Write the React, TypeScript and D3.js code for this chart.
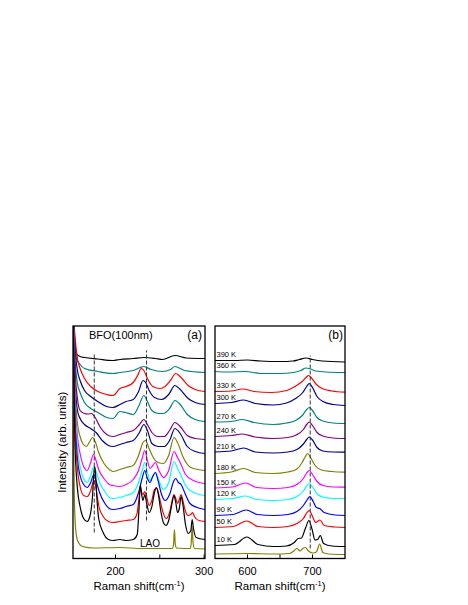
import React from "react";
import * as d3 from "d3";

type Pt = [number, number];

// temperatures, top to bottom, then the substrate trace
const temps = ["390 K", "360 K", "330 K", "300 K", "270 K", "240 K", "210 K", "180 K", "150 K", "120 K", "90 K", "50 K", "10 K"];
const colors = ["#000000", "#008080", "#ff0000", "#00008b", "#008080", "#800080", "#00008b", "#808000", "#ff00ff", "#00ffff", "#0000ff", "#ff0000", "#000000"];
const laoColor = "#808000";

// panel (a): low-frequency region, [Raman shift, intensity]
const a390: Pt[] = [[152,260],[153.5,220],[155.5,205],[160,202],[165,201],[180,199.5],[197,198],[205,199],[220,200],[232,201],[245,200],[253,199],[267,203],[280,200.5],[301,200]];
const a360: Pt[] = [[152,260],[153.5,225],[156,200],[160,194],[165,190],[180,187],[197,185],[205,186],[220,188],[228,191],[232,192],[240,189],[253,187],[262,189],[267,192],[278,188],[301,186]];
const a330: Pt[] = [[152,260],[154,225],[157,200],[160,190],[165,180],[172,172],[180,167],[190,164],[197,163],[205,170],[212,172],[220,176],[225,183],[229,190],[232,188],[236,180],[242,172],[250,170],[256,172],[262,178],[268,185],[274,181],[282,173],[290,169],[301,167]];
const a300: Pt[] = [[152,260],[154,215],[157,188],[160,178],[165,168],[172,162],[180,157],[190,152],[197,151],[205,154],[212,157],[220,159],[226,167],[231,178],[234,176],[238,168],[244,161],[252,159],[260,164],[267,173],[273,169],[282,160],[290,156],[301,154]];
const a270: Pt[] = [[152,260],[154,205],[157,175],[160,166],[165,156],[172,150],[180,146],[190,141],[197,140],[205,147],[211,146],[220,144],[226,152],[232,163],[236,157],[241,148],[248,145],[254,145],[261,150],[267,158],[273,154],[281,144],[290,139],[301,137]];
const a240: Pt[] = [[152,260],[154,195],[157,160],[160,148],[165,145],[169,144.5],[173,145],[177,141],[183,131],[190,124],[197,122],[205,124],[212,126],[220,128],[227,134],[232,139],[236,134],[241,126],[248,122],[255,122],[261,128],[267,136],[273,132],[281,123],[290,120],[301,119]];
const a210: Pt[] = [[152,260],[154,185],[157,148],[160,140],[165,134],[172,130],[178,126],[185,118],[192,113],[197,112],[205,114],[212,116],[220,118],[227,126],[232,134],[236,128],[241,115],[248,112],[255,112],[261,118],[267,130],[273,125],[281,112],[290,107],[301,105]];
const a180: Pt[] = [[152,260],[154,175],[157,135],[160,122],[163,115],[167,112],[171,117],[174,121],[177,117],[181,106],[187,95],[193,89],[197,87],[205,89],[212,91],[220,93],[226,103],[231,116],[234,118],[237,112],[242,102],[248,96],[254,95],[260,103],[266,121],[270,116],[276,102],[285,91],[301,88]];
const a150: Pt[] = [[152,260],[154,165],[157,122],[160,105],[164,92],[168,88],[172,96],[175,104],[178,98],[181,89],[187,80],[193,74],[197,73],[205,72],[212,74],[220,79],[226,88],[230,100],[233,108],[236,98],[239,90],[242,93],[245,96],[249,88],[254,81],[260,88],[266,107],[270,101],[274,94],[279,84],[288,78],[301,75]];
const a120: Pt[] = [[152,260],[154,160],[157,112],[160,92],[164,80],[168,76],[172,83],[175.5,92],[178.5,86],[182,76],[188,67],[193,61],[197,60],[205,61],[212,63],[220,66],[226,76],[230,88],[233,96],[236,86],[239,78],[242,82],[245,86],[249,78],[254,69],[260,76],[266,97],[270,90],[274,83],[279,73],[288,66],[301,63]];
const a90: Pt[] = [[152,260],[154,150],[157,100],[160,83],[164,74],[168,71],[172,76],[175.5,84],[178.5,76],[182,66],[188,55],[193,50],[197,49],[205,50],[212,52],[220,54],[226,66],[230,80],[233,88],[236,80],[239,76],[242,82],[245,86],[248,78],[252,64],[256,58],[261,64],[266,78],[268,80],[271,76],[274,74],[278,66],[284,55],[292,51],[301,49]];
const a50: Pt[] = [[152,260],[154,140],[157,90],[160,72],[164,63],[168,62],[172,68],[174.5,76],[176,78],[178,70],[181,53],[186,42],[192,37],[197,36],[205,37],[212,38],[220,39],[224,44],[226.5,60],[228,71],[229.5,66],[231,64],[233,67],[235,62],[238,53],[241,58],[244,69],[246.5,70],[249,63],[253,48],[257,40],[261,46],[264,58],[266,64],[268,60],[270,55],[272,59],[274,64],[276,58],[279,47],[282,43],[285,44],[287,46],[289,42],[294,38],[301,37]];
const a10: Pt[] = [[152,260],[154,120],[157,70],[160,52],[164,40],[168,37],[171,42],[174,62],[175.5,84],[176.5,92],[177.5,84],[179,60],[181,40],[186,26],[192,19],[197,18],[205,19],[212,18],[220,19],[224.5,24],[226.5,50],[228,74],[229.5,64],[231,58],[233,64],[235,56],[238,46],[241,52],[244,66],[246,71],[248,66],[251,48],[254,36],[257,33],[260,38],[263.5,54],[266,63],[268,56],[270,46],[272,50],[274,62],[276,54],[279,34],[282,25],[285,28],[286.5,39],[288,30],[291,21],[301,19]];
const aLAO: Pt[] = [[152,180],[153.5,60],[155.5,25],[158,16],[163,12],[175,10.5],[205,11],[230,10],[264,10],[265.5,14],[266.5,29],[267.5,14],[269,10.5],[284.5,10],[285.5,16],[286.5,32],[287.5,16],[289,10],[301,9.5]];

// panel (b): high-frequency region
const b390: Pt[] = [[550,198],[580,198],[600,198.5],[620,197.5],[650,197],[670,197.5],[680,199],[690,200.5],[700,199],[715,197.5],[750,196.5]];
const b360: Pt[] = [[550,187],[570,186.5],[597,187],[620,185],[650,185],[670,186],[682,188],[690,190.5],[697,189.5],[705,187.5],[720,186.5],[750,186]];
const b330: Pt[] = [[550,167],[575,167.5],[593,169.5],[610,167],[637,166],[660,168],[673,172],[684,177],[690,181],[694,183],[699,180],[706,174],[715,170],[730,167.5],[750,166.3]];
const b300: Pt[] = [[550,155],[575,156],[594,158.5],[612,155],[640,153.5],[660,155.5],[674,160],[685,166],[691,172],[695,175],[700,171],[707,162],[716,157],[732,154],[750,153]];
const b270: Pt[] = [[550,136.5],[575,137],[592,139],[610,136],[640,134],[660,135.5],[674,138],[685,143.5],[691,149],[695,151],[700,148],[707,141],[716,137.5],[732,135.5],[750,135]];
const b240: Pt[] = [[550,122],[575,123],[592,124.5],[612,121.5],[640,120],[662,121],[675,123.5],[686,129],[691,134],[695,136.5],[700,133],[707,126],[716,122.5],[732,120.5],[750,120]];
const b210: Pt[] = [[550,106.5],[575,107.5],[594,110.5],[612,106.5],[640,105.5],[662,106.5],[676,109],[686,114.5],[691,119],[695,121.5],[700,118.5],[707,111],[716,107.5],[732,106.5],[750,106.3]];
const b180: Pt[] = [[550,85],[575,86.5],[594,90],[612,86],[640,85],[662,86.5],[675,89],[684,96],[689,102],[692.5,105],[697,101],[704,93],[714,88.5],[730,87],[750,86.3]];
const b150: Pt[] = [[550,70.5],[577,71.5],[597,75.5],[614,71],[640,70],[662,71],[676,74],[686,80],[691,85.5],[695,88],[700,84],[707,77],[716,73],[732,71.5],[750,71.3]];
const b120: Pt[] = [[550,59],[577,60],[597,62.5],[614,59],[640,58],[662,59],[676,62],[686,67.5],[691,72.5],[695,75],[700,71.5],[707,64.5],[716,61.5],[732,60],[750,60]];
const b90: Pt[] = [[550,43],[578,44],[598,48.5],[615,44],[640,43],[662,44],[676,47],[686,53],[692,59],[696,62],[701,57],[706,51],[711,50],[718,46],[735,43.5],[750,43]];
const b50: Pt[] = [[550,31],[578,32],[599,37.5],[616,32],[640,31],[662,32],[676,35],[686,40],[691,45.5],[695,48],[700,42],[705,36],[711.5,38.5],[718,33],[735,31.5],[750,31]];
const b10: Pt[] = [[550,13],[580,14],[599,21.5],[616,14],[640,12],[660,12.5],[672,16],[678,20],[683,20.5],[689,30],[694.5,38],[699,30],[704,18.5],[708,19],[712,23],[717,15],[730,12.5],[750,12]];
const bLAO: Pt[] = [[550,4.5],[600,5],[640,4.5],[665,5],[672,8],[676,10],[681,7.5],[686,10.5],[689,11],[693,8],[700,5.5],[706,6.5],[711,14.5],[716,6],[725,4.5],[750,4]];

const seriesA = [a390, a360, a330, a300, a270, a240, a210, a180, a150, a120, a90, a50, a10];
const seriesB = [b390, b360, b330, b300, b270, b240, b210, b180, b150, b120, b90, b50, b10];

// dashed guide lines: [shift, from, to]
const guidesA = [[176, 26, 206], [235, 38, 208]];
const guidesB = [[696.5, 10, 203]];

const ticksA = [200, 250, 300];
const tickLabelsA = [200, 300];
const ticksB = [600, 650, 700];
const tickLabelsB = [600, 700];

const font = "Arial, 'Liberation Sans', sans-serif";

export default function App() {
  const top = 326;
  const bottom = 558.5;
  const xA = d3.scaleLinear().domain([152, 301]).range([73, 205]);
  const xB = d3.scaleLinear().domain([550, 750]).range([215, 345]);
  const y = d3.scaleLinear().domain([0, 232.5]).range([bottom, top]);

  const makeLine = (x: d3.ScaleLinear<number, number>) =>
    d3.line<Pt>().x((d) => x(d[0])).y((d) => y(d[1])).curve(d3.curveMonotoneX);
  const lineA = makeLine(xA);
  const lineB = makeLine(xB);

  const panel = (
    id: string,
    x: d3.ScaleLinear<number, number>,
    line: d3.Line<Pt>,
    series: Pt[][],
    lao: Pt[],
    guides: number[][],
    ticks: number[],
    tickLabels: number[]
  ) => {
    const [x0, x1] = x.range();
    return (
      <g key={id}>
        <clipPath id={"clip" + id}>
          <rect x={x0} y={top} width={x1 - x0} height={bottom - top} />
        </clipPath>
        <g clipPath={`url(#clip${id})`} fill="none" strokeWidth={1.2}>
          <path d={line(lao) || ""} stroke={laoColor} />
          {series.map((s, i) => (
            <path key={i} d={line(s) || ""} stroke={colors[i]} />
          ))}
          {guides.map((g, i) => (
            <line key={i} x1={x(g[0])} x2={x(g[0])} y1={y(g[1])} y2={y(g[2])}
              stroke="#333" strokeWidth={1} strokeDasharray="4,2" />
          ))}
        </g>
        <rect x={x0} y={top} width={x1 - x0} height={bottom - top} fill="none" stroke="#000" strokeWidth={1.3} />
        {ticks.map((t) => (
          <line key={t} x1={x(t)} x2={x(t)} y1={bottom} y2={bottom - 4} stroke="#000" strokeWidth={1} />
        ))}
        {tickLabels.map((t) => (
          <text key={t} x={x(t)} y={575} textAnchor="middle" fontSize={11} fontFamily={font}>{t}</text>
        ))}
        <text x={(x0 + x1) / 2} y={590} textAnchor="middle" fontSize={11.5} fontFamily={font}>
          Raman shift(cm<tspan dy={-4} fontSize={7.5}>-1</tspan><tspan dy={4}>)</tspan>
        </text>
      </g>
    );
  };

  return (
    <svg width={468} height={605} style={{ position: "absolute", left: 0, top: 0 }}>
      <rect width={468} height={605} fill="#fff" />
      {panel("a", xA, lineA, seriesA, aLAO, guidesA, ticksA, tickLabelsA)}
      {panel("b", xB, lineB, seriesB, bLAO, guidesB, ticksB, tickLabelsB)}
      <text x={89} y={339} fontSize={11} fontFamily={font}>BFO(100nm)</text>
      <text x={202} y={339} fontSize={12} textAnchor="end" fontFamily={font}>(a)</text>
      <text x={343} y={339} fontSize={12} textAnchor="end" fontFamily={font}>(b)</text>
      <text x={150} y={547} fontSize={10} textAnchor="middle" fontFamily={font}>LAO</text>
      {temps.map((t, i) => (
        <text key={t} x={216.5} y={y(seriesB[i][0][1]) - 3.5} fontSize={7.5} fontFamily={font}>{t}</text>
      ))}
      <text transform={`translate(66,${(top + bottom) / 2}) rotate(-90)`} textAnchor="middle"
        fontSize={11.5} fontFamily={font}>Intensity (arb. units)</text>
    </svg>
  );
}
